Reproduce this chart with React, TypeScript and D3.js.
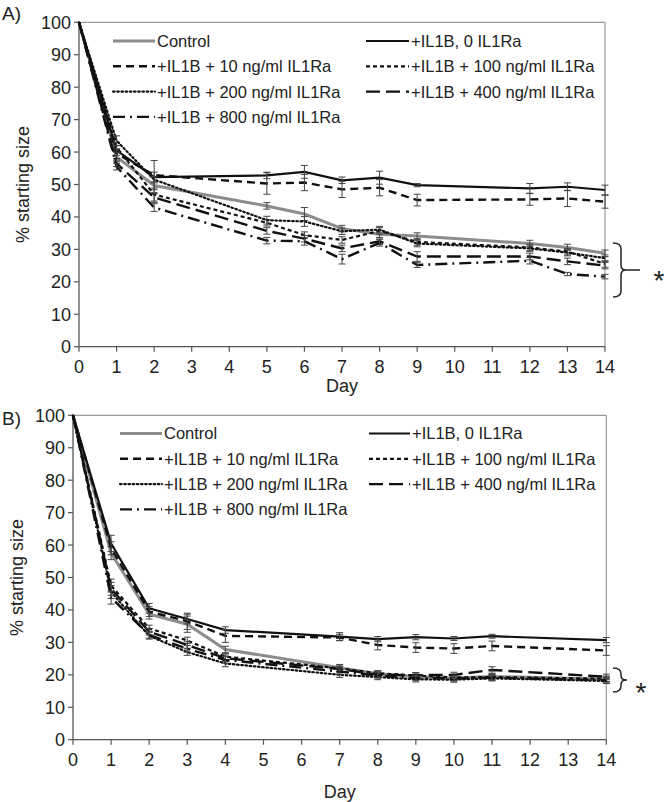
import React from "react";
import * as d3 from "d3";

const seriesNames = [
  "Control",
  "+IL1B, 0 IL1Ra",
  "+IL1B + 10 ng/ml IL1Ra",
  "+IL1B + 100 ng/ml IL1Ra",
  "+IL1B + 200 ng/ml IL1Ra",
  "+IL1B + 400 ng/ml IL1Ra",
  "+IL1B + 800 ng/ml IL1Ra",
];

const xTicks = [0, 1, 2, 3, 4, 5, 6, 7, 8, 9, 10, 11, 12, 13, 14];
const yTicks = [0, 10, 20, 30, 40, 50, 60, 70, 80, 90, 100];

// Panel A
const daysA = [0, 1, 2, 5, 6, 7, 8, 9, 12, 13, 14];
const aControl = [100, 58.5, 49.7, 43.4, 40.9, 36.4, 34.7, 34.1, 31.8, 30.6, 28.8];
const aIL0 = [100, 60.5, 52.3, 52.8, 53.9, 51.3, 52.1, 49.8, 48.8, 49.3, 48.3];
const aIL10 = [100, 59.5, 52.9, 50.3, 50.6, 48.5, 49.0, 45.2, 45.4, 45.7, 44.7];
const aIL100 = [100, 61.5, 46.9, 38.2, 34.4, 32.9, 35.7, 32.3, 30.6, 29.3, 25.5];
const aIL200 = [100, 63.5, 51.5, 39.0, 38.6, 35.6, 36.1, 31.8, 30.3, 29.0, 27.3];
const aIL400 = [100, 56.5, 46.0, 35.7, 33.3, 30.3, 32.5, 27.8, 27.8, 26.3, 25.0];
const aIL800 = [100, 55.5, 42.9, 32.7, 32.5, 27.0, 32.0, 25.2, 26.5, 22.4, 21.6];

const aErrControl = [0, 1.5, 2.5, 1, 2, 1, 1, 1, 1, 1, 1];
const aErrIL0 = [0, 1.5, 1.5, 1, 2, 1, 2, 0.5, 1.5, 1.2, 1.5];
const aErrIL10 = [0, 1.5, 4.5, 3.3, 2.5, 2.5, 2.5, 1.8, 1.8, 2.5, 2];
const aErrIL100 = [0, 1.5, 2, 1, 1, 1, 1, 1, 1, 1, 1];
const aErrIL200 = [0, 1.5, 1, 1.2, 1.5, 1, 1, 1, 1, 1, 1];
const aErrIL400 = [0, 1, 1.5, 1, 1, 1, 1, 1.5, 1, 1, 1];
const aErrIL800 = [0, 1, 1.2, 1, 1.2, 1.5, 1, 0.8, 1, 0.5, 0.7];

// Panel B
const daysB = [0, 1, 2, 3, 4, 7, 8, 9, 10, 11, 14];
const bControl = [100, 57.5, 38.7, 35.6, 27.8, 22.2, 20.3, 19.4, 19.0, 19.5, 18.6];
const bIL0 = [100, 60.5, 40.5, 37.2, 33.8, 31.8, 31.0, 31.6, 31.2, 31.9, 30.7];
const bIL10 = [100, 59, 39.5, 36.5, 32, 31.5, 29.2, 28.4, 28.1, 28.9, 27.5];
const bIL100 = [100, 47.5, 34.3, 30.6, 25.6, 22, 20.5, 19.8, 19.2, 19.3, 18.8];
const bIL200 = [100, 45.5, 32.0, 27.0, 23.5, 20.0, 19.3, 18.6, 18.5, 18.9, 18.1];
const bIL400 = [100, 46.5, 33.3, 29.2, 25.1, 21.8, 20.0, 19.9, 20.0, 21.5, 19.4];
const bIL800 = [100, 43.8, 32.3, 28.0, 24.6, 21.0, 19.8, 19.0, 18.9, 19.1, 18.3];

const bErrControl = [0, 2, 1.5, 2.5, 1, 1, 0.8, 0.8, 0.8, 0.8, 0.8];
const bErrIL0 = [0, 2.5, 1.5, 1.5, 1, 1.2, 0.8, 0.8, 0.6, 0.6, 0.8];
const bErrIL10 = [0, 2, 1.5, 2.5, 2, 1, 1.5, 1.5, 1.5, 1.5, 1.5];
const bErrIL100 = [0, 2, 1, 1, 1, 1, 0.8, 0.8, 0.8, 0.8, 0.8];
const bErrIL200 = [0, 2, 1, 1, 1, 0.8, 0.8, 0.8, 0.8, 0.8, 0.8];
const bErrIL400 = [0, 2, 1, 1, 1, 0.8, 0.8, 0.8, 0.8, 1, 0.8];
const bErrIL800 = [0, 2, 1, 1, 1, 0.8, 0.8, 0.8, 0.8, 0.8, 0.8];

const styles = [
  { stroke: "#8c8c8c", width: 3, dash: "" },
  { stroke: "#111", width: 2.2, dash: "" },
  { stroke: "#111", width: 2.4, dash: "8,5" },
  { stroke: "#111", width: 2.2, dash: "4,3" },
  { stroke: "#111", width: 2.2, dash: "1.6,2.6" },
  { stroke: "#111", width: 2.4, dash: "14,6" },
  { stroke: "#111", width: 2.4, dash: "12,5,2,5" },
];

const FONT = "'Liberation Sans', Arial, sans-serif";

type PanelProps = {
  label: string;
  days: number[];
  values: number[][];
  errors: number[][];
  x0: number;
  x1: number;
  yTop: number;
  yBot: number;
  labelY: number;
  titleX: number;
  dayY: number;
  legend: { lx0: number; lx1: number; rx0: number; rx1: number; y0: number; dy: number };
  brace: { x: number; y0: number; y1: number; tip: number };
  star: { x: number; y: number };
};

function Panel(p: PanelProps) {
  const x = d3.scaleLinear().domain([0, 14]).range([p.x0, p.x1]);
  const y = d3.scaleLinear().domain([0, 100]).range([p.yBot, p.yTop]);
  const line = d3
    .line<[number, number]>()
    .x((d) => x(d[0]))
    .y((d) => y(d[1]));

  const leftOrder = [0, 2, 4, 6];
  const rightOrder = [1, 3, 5];

  const bm = (p.brace.y0 + p.brace.y1) / 2;
  const bx = p.brace.x;
  const bw = 8;
  const bracePath = `M${bx},${p.brace.y0} Q${bx + bw},${p.brace.y0} ${bx + bw},${p.brace.y0 + 6} L${bx + bw},${bm - 5} Q${bx + bw},${bm} ${bx + bw + 5},${bm} Q${bx + bw},${bm} ${bx + bw},${bm + 5} L${bx + bw},${p.brace.y1 - 6} Q${bx + bw},${p.brace.y1} ${bx},${p.brace.y1} M${bx + bw + 5},${bm} L${p.brace.tip},${bm}`;

  return (
    <g>
      <text x={2} y={p.labelY} fontSize={19} fontFamily={FONT} fill="#222">
        {p.label}
      </text>
      <line x1={p.x0} x2={p.x1} y1={p.yTop} y2={p.yTop} stroke="#999" strokeWidth={1.2} />
      <line x1={p.x1} x2={p.x1} y1={p.yTop} y2={p.yBot} stroke="#999" strokeWidth={1.2} />
      <line x1={p.x0} x2={p.x0} y1={p.yTop} y2={p.yBot} stroke="#555" strokeWidth={1.3} />
      <line x1={p.x0} x2={p.x1} y1={p.yBot} y2={p.yBot} stroke="#555" strokeWidth={1.3} />
      {yTicks.map((t) => (
        <g key={"y" + t}>
          <line x1={p.x0 - 5} x2={p.x0} y1={y(t)} y2={y(t)} stroke="#555" strokeWidth={1.2} />
          <text
            x={p.x0 - 8}
            y={y(t)}
            dy="0.36em"
            textAnchor="end"
            fontSize={18}
            fontFamily={FONT}
            fill="#222"
          >
            {t}
          </text>
        </g>
      ))}
      {xTicks.map((t) => (
        <g key={"x" + t}>
          <line x1={x(t)} x2={x(t)} y1={p.yBot} y2={p.yBot + 5} stroke="#555" strokeWidth={1.2} />
          <text
            x={x(t)}
            y={p.yBot + 26}
            textAnchor="middle"
            fontSize={18}
            fontFamily={FONT}
            fill="#222"
          >
            {t}
          </text>
        </g>
      ))}
      <text
        x={(p.x0 + p.x1) / 2}
        y={p.dayY}
        textAnchor="middle"
        fontSize={18}
        fontFamily={FONT}
        fill="#222"
      >
        Day
      </text>
      <text
        transform={`translate(${p.titleX},${(p.yTop + p.yBot) / 2}) rotate(-90)`}
        textAnchor="middle"
        fontSize={18}
        fontFamily={FONT}
        fill="#222"
      >
        % starting size
      </text>

      {[0, 1, 2, 3, 4, 5, 6].map((si) => {
        const st = styles[si];
        const pts = p.days.map((d, i) => [d, p.values[si][i]] as [number, number]);
        return (
          <g key={"s" + si}>
            <path
              d={line(pts) || ""}
              fill="none"
              stroke={st.stroke}
              strokeWidth={st.width}
              strokeDasharray={st.dash || undefined}
              strokeLinecap={si === 4 ? "round" : "butt"}
            />
            {p.days.map((d, i) => {
              const e = p.errors[si][i];
              if (!e) return null;
              const cx = x(d);
              const v = p.values[si][i];
              return (
                <g key={i} stroke="#444" strokeWidth={1}>
                  <line x1={cx} x2={cx} y1={y(v - e)} y2={y(v + e)} />
                  <line x1={cx - 3.5} x2={cx + 3.5} y1={y(v - e)} y2={y(v - e)} />
                  <line x1={cx - 3.5} x2={cx + 3.5} y1={y(v + e)} y2={y(v + e)} />
                </g>
              );
            })}
          </g>
        );
      })}

      {leftOrder.map((si, k) => {
        const st = styles[si];
        const ly = p.legend.y0 + k * p.legend.dy;
        return (
          <g key={"ll" + si}>
            <line
              x1={p.legend.lx0}
              x2={p.legend.lx1}
              y1={ly}
              y2={ly}
              stroke={st.stroke}
              strokeWidth={st.width}
              strokeDasharray={st.dash || undefined}
              strokeLinecap={si === 4 ? "round" : "butt"}
            />
            <text x={p.legend.lx1 + 2} y={ly} dy="0.36em" fontSize={16.5} fontFamily={FONT} fill="#222">
              {seriesNames[si]}
            </text>
          </g>
        );
      })}
      {rightOrder.map((si, k) => {
        const st = styles[si];
        const ly = p.legend.y0 + k * p.legend.dy;
        return (
          <g key={"lr" + si}>
            <line
              x1={p.legend.rx0}
              x2={p.legend.rx1}
              y1={ly}
              y2={ly}
              stroke={st.stroke}
              strokeWidth={st.width}
              strokeDasharray={st.dash || undefined}
            />
            <text x={p.legend.rx1 + 2} y={ly} dy="0.36em" fontSize={16.5} fontFamily={FONT} fill="#222">
              {seriesNames[si]}
            </text>
          </g>
        );
      })}

      <path d={bracePath} fill="none" stroke="#222" strokeWidth={1.5} />
      <text x={p.star.x} y={p.star.y} textAnchor="middle" fontSize={28} fontFamily={FONT} fill="#222">
        *
      </text>
    </g>
  );
}

export default function App() {
  return (
    <svg width={664} height={802} style={{ position: "absolute", left: 0, top: 0, background: "#fff" }}>
      <rect width={664} height={802} fill="#fff" />
      <Panel
        label="A)"
        days={daysA}
        values={[aControl, aIL0, aIL10, aIL100, aIL200, aIL400, aIL800]}
        errors={[aErrControl, aErrIL0, aErrIL10, aErrIL100, aErrIL200, aErrIL400, aErrIL800]}
        x0={79}
        x1={605}
        yTop={22.3}
        yBot={346.7}
        labelY={20}
        titleX={29}
        dayY={392}
        legend={{ lx0: 113, lx1: 155, rx0: 366, rx1: 409, y0: 41, dy: 25.3 }}
        brace={{ x: 613, y0: 243, y1: 297, tip: 640 }}
        star={{ x: 659, y: 290 }}
      />
      <Panel
        label="B)"
        days={daysB}
        values={[bControl, bIL0, bIL10, bIL100, bIL200, bIL400, bIL800]}
        errors={[bErrControl, bErrIL0, bErrIL10, bErrIL100, bErrIL200, bErrIL400, bErrIL800]}
        x0={73}
        x1={606.3}
        yTop={415.3}
        yBot={739.7}
        labelY={425}
        titleX={23}
        dayY={798}
        legend={{ lx0: 120, lx1: 162, rx0: 369, rx1: 410, y0: 433.5, dy: 25.3 }}
        brace={{ x: 613, y0: 668, y1: 692, tip: 627 }}
        star={{ x: 641, y: 702 }}
      />
    </svg>
  );
}
